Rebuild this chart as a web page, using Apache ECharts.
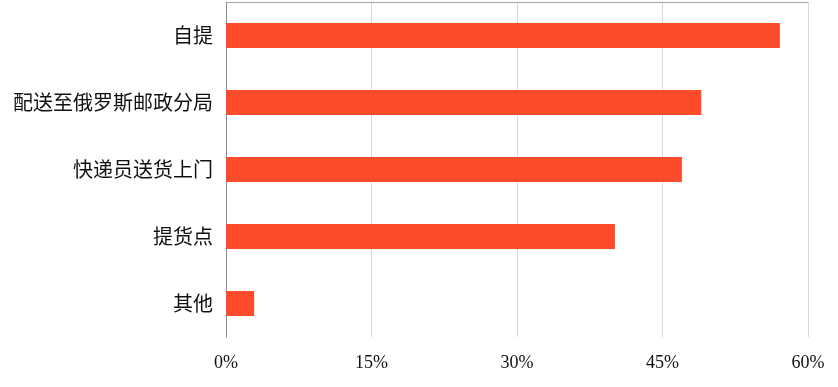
<!DOCTYPE html>
<html><head><meta charset="utf-8">
<script src="https://cdn.jsdelivr.net/npm/echarts@6/dist/echarts.min.js"></script>
<style>html,body{margin:0;padding:0;background:#fff}#c{width:838px;height:387px}</style>
</head><body><div id="c"></div>
<script>
var categories = ['自提', '配送至俄罗斯邮政分局', '快递员送货上门', '提货点', '其他'];
var values = [57.1, 49.0, 47.0, 40.1, 2.9];
var xTicks = [0, 15, 30, 45, 60];

var chart = echarts.init(document.getElementById('c'), null, {renderer: 'canvas'});
chart.setOption({
  animation: false,
  grid: {left: 226, right: 30, top: 2, bottom: 50, containLabel: false},
  xAxis: [{
    type: 'value', min: xTicks[0], max: xTicks[xTicks.length - 1], interval: 15,
    axisLine: {show: false},
    axisTick: {show: false},
    splitLine: {show: true, lineStyle: {color: '#d9d9d9', width: 1}},
    axisLabel: {formatter: '{value}%', color: '#111', fontFamily: 'Liberation Serif', fontSize: 18, margin: 17}
  }, {
    type: 'value', position: 'top', min: 0, max: 60,
    axisLine: {show: true, lineStyle: {color: '#a6a6a6'}},
    axisTick: {show: false}, axisLabel: {show: false}, splitLine: {show: false}
  }],
  yAxis: {
    type: 'category', data: categories, inverse: true,
    axisLine: {show: true, lineStyle: {color: '#8c8c8c'}},
    axisTick: {show: false},
    axisLabel: {color: '#111', fontFamily: 'Noto Sans CJK SC', fontSize: 20, margin: 13, padding: [0, 0, 6, 0]}
  },
  series: [{
    type: 'bar', data: values, barWidth: 25, xAxisIndex: 0,
    itemStyle: {color: '#FD4B2B'}
  }]
});
</script></body></html>
